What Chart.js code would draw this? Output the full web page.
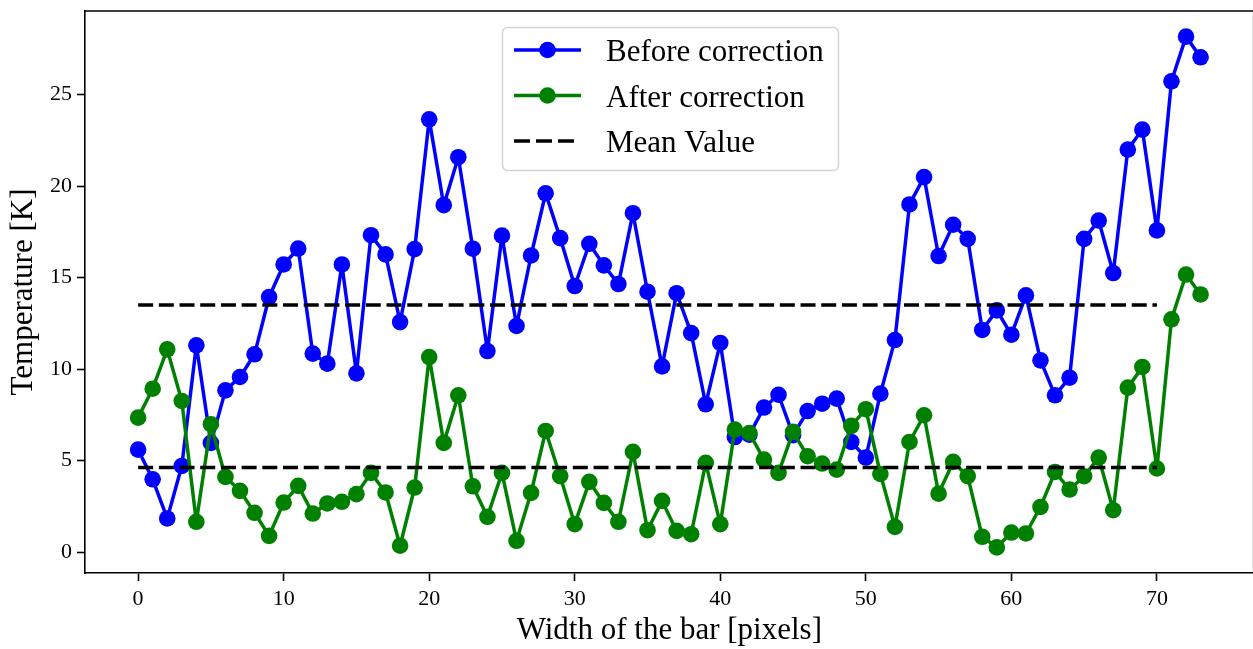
<!DOCTYPE html>
<html>
<head>
<meta charset="utf-8">
<title>Temperature correction</title>
<script src="https://cdn.jsdelivr.net/npm/chart.js@4.4.1/dist/chart.umd.min.js"></script>
<style>
  html, body { margin: 0; padding: 0; background: #fff; overflow: hidden; }
  #wrap { width: 1262px; height: 649px; }
</style>
</head>
<body>
<div id="wrap"><canvas id="chart" width="1262" height="649"></canvas></div>
<script>
const pixelIndex = [
  0, 1, 2, 3, 4, 5, 6, 7, 8, 9, 10, 11, 12, 13, 14, 15, 16, 17, 18, 19,
  20, 21, 22, 23, 24, 25, 26, 27, 28, 29, 30, 31, 32, 33, 34, 35, 36, 37, 38, 39,
  40, 41, 42, 43, 44, 45, 46, 47, 48, 49, 50, 51, 52, 53, 54, 55, 56, 57, 58, 59,
  60, 61, 62, 63, 64, 65, 66, 67, 68, 69, 70, 71, 72, 73
];

const beforeCorrection = [
  5.6, 3.98, 1.84, 4.71, 11.3, 5.97, 8.84, 9.57, 10.81, 13.94,
  15.72, 16.59, 10.85, 10.3, 15.72, 9.77, 17.32, 16.27, 12.57, 16.56,
  23.65, 18.96, 21.58, 16.58, 10.99, 17.3, 12.36, 16.21, 19.61, 17.16,
  14.54, 16.85, 15.67, 14.65, 18.52, 14.23, 10.15, 14.15, 11.97, 8.08,
  11.43, 6.29, 6.42, 7.9, 8.6, 6.39, 7.71, 8.11, 8.39, 6.02,
  5.17, 8.66, 11.59, 19.0, 20.49, 16.18, 17.89, 17.12, 12.14, 13.21,
  11.88, 14.03, 10.48, 8.57, 9.53, 17.12, 18.12, 15.25, 22.0, 23.09,
  17.58, 25.73, 28.17, 27.04
];

const afterCorrection = [
  7.35, 8.93, 11.08, 8.26, 1.66, 6.99, 4.11, 3.35, 2.15, 0.89,
  2.71, 3.62, 2.11, 2.66, 2.75, 3.17, 4.33, 3.26, 0.35, 3.53,
  10.66, 5.97, 8.57, 3.6, 1.93, 4.33, 0.62, 3.24, 6.62, 4.15,
  1.53, 3.84, 2.69, 1.66, 5.48, 1.2, 2.8, 1.16, 0.98, 4.88,
  1.53, 6.7, 6.51, 5.06, 4.33, 6.57, 5.24, 4.84, 4.51, 6.9,
  7.81, 4.27, 1.38, 6.02, 7.48, 3.2, 4.93, 4.15, 0.84, 0.26,
  1.07, 1.02, 2.47, 4.38, 3.42, 4.15, 5.17, 2.29, 8.99, 10.12,
  4.57, 12.72, 15.17, 14.08
];

const meanBefore = 13.5;
const meanAfter = 4.62;
const meanSpan = [0, 70];

const xTicks = [0, 10, 20, 30, 40, 50, 60, 70];
const yTicks = [0, 5, 10, 15, 20, 25];

const serif = "'Liberation Serif', 'Times New Roman', serif";
Chart.defaults.color = "#000";
Chart.defaults.font.family = serif;

const toPoints = (xs, ys) => xs.map((x, i) => ({ x, y: ys[i] }));
const flat = (v) => meanSpan.map(x => ({ x, y: v }));

const DASH = [15, 5.7];

// closes the box: top and right spines
const frame = {
  id: "frame",
  afterDraw(chart) {
    const { ctx, chartArea: a } = chart;
    ctx.save();
    ctx.strokeStyle = "#000";
    ctx.lineWidth = 1.6;
    ctx.beginPath();
    ctx.moveTo(a.left, a.top);
    ctx.lineTo(a.right, a.top);
    ctx.lineTo(a.right, a.bottom);
    ctx.stroke();
    ctx.restore();
  }
};

// legend drawn inside the plot, upper middle
const boxLegend = {
  id: "boxLegend",
  afterDraw(chart) {
    const { ctx } = chart;
    const items = chart.data.datasets.filter(d => d.label);
    ctx.save();
    ctx.beginPath();
    ctx.roundRect(502.5, 27.5, 336, 143, 5);
    ctx.fillStyle = "rgba(255,255,255,0.8)";
    ctx.fill();
    ctx.strokeStyle = "#d4d4d4";
    ctx.lineWidth = 1.5;
    ctx.stroke();

    items.forEach((d, i) => {
      const y = 50 + i * 45.5;
      ctx.strokeStyle = d.borderColor;
      ctx.lineWidth = d.borderWidth;
      ctx.setLineDash(d.borderDash ? [16, 6] : []);
      ctx.beginPath();
      ctx.moveTo(514, y);
      ctx.lineTo(d.borderDash ? 574 : 581, y);
      ctx.stroke();
      ctx.setLineDash([]);
      if (d.pointRadius > 0) {
        ctx.fillStyle = d.borderColor;
        ctx.beginPath();
        ctx.arc(547.5, y, d.pointRadius, 0, Math.PI * 2);
        ctx.fill();
      }
      ctx.fillStyle = "#000";
      ctx.font = "31px " + serif;
      ctx.textBaseline = "alphabetic";
      ctx.textAlign = "left";
      ctx.fillText(d.label, 606, y + 11);
    });
    ctx.restore();
  }
};

const series = (label, ys, color, order) => ({
  label,
  data: toPoints(pixelIndex, ys),
  borderColor: color,
  backgroundColor: color,
  borderWidth: 3.5,
  borderJoinStyle: "round",
  pointRadius: 8.3,
  pointHoverRadius: 8.3,
  pointBorderWidth: 0,
  showLine: true,
  tension: 0,
  order
});

const meanLine = (label, v) => ({
  label,
  data: flat(v),
  borderColor: "#000",
  borderWidth: 3.5,
  borderDash: DASH,
  pointRadius: 0,
  showLine: true,
  order: 1
});

const noEdgePad = s => {
  s.paddingTop = 0; s.paddingBottom = 0;
  s.paddingLeft = 0; s.paddingRight = 0;
};

new Chart(document.getElementById("chart"), {
  type: "scatter",
  data: {
    datasets: [
      series("Before correction", beforeCorrection, "#0000ff", 3),
      series("After correction", afterCorrection, "#008000", 2),
      meanLine("Mean Value", meanBefore),
      meanLine("", meanAfter)
    ]
  },
  plugins: [frame, boxLegend],
  options: {
    responsive: false,
    animation: false,
    events: [],
    layout: { padding: { top: 11, right: 6, bottom: 0, left: 0 } },
    plugins: { legend: { display: false }, tooltip: { enabled: false } },
    scales: {
      x: {
        type: "linear",
        min: -3.65,
        max: 76.65,
        afterBuildTicks: s => { s.ticks = xTicks.map(value => ({ value })); },
        afterFit: s => { s.height = 76; noEdgePad(s); },
        border: { color: "#000", width: 1.6 },
        grid: { drawOnChartArea: false, color: "#000", tickLength: 8, tickWidth: 1.6 },
        ticks: { font: { size: 22 }, padding: 5, maxRotation: 0 },
        title: { display: true, text: "Width of the bar [pixels]", font: { size: 31 }, padding: 0 }
      },
      y: {
        min: -1.14,
        max: 29.57,
        afterBuildTicks: s => { s.ticks = yTicks.map(value => ({ value })); },
        afterFit: s => { s.width = 85; noEdgePad(s); },
        border: { color: "#000", width: 1.6 },
        grid: { drawOnChartArea: false, color: "#000", tickLength: 8, tickWidth: 1.6 },
        ticks: { font: { size: 22 }, padding: 5 },
        title: { display: true, text: "Temperature [K]", font: { size: 31 }, padding: { top: 5, bottom: 0 } }
      }
    }
  }
});
</script>
</body>
</html>
